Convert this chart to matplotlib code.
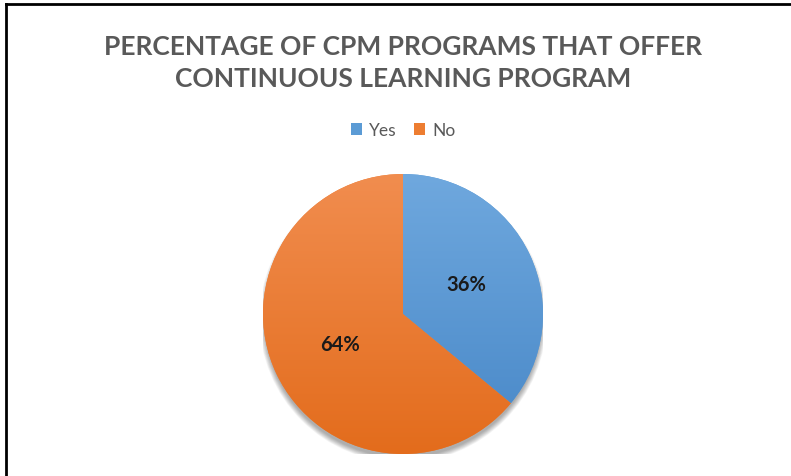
import matplotlib
matplotlib.use("Agg")
import matplotlib.pyplot as plt
import numpy as np
from matplotlib.lines import Line2D
from matplotlib.patches import Circle, Patch
from matplotlib.colors import LinearSegmentedColormap

categories = ["Yes", "No"]
values = [36, 64]
base_colors = ["#5B9BD5", "#ED7D31"]
grad_top = ["#6FA8DE", "#F18D4F"]
grad_bottom = ["#4787C7", "#E36C1C"]
title = "PERCENTAGE OF CPM PROGRAMS THAT OFFER\nCONTINUOUS LEARNING PROGRAM"

W, H = 791, 477
fig = plt.figure(figsize=(W / 100, H / 100), dpi=100)
fig.patch.set_facecolor("white")

cx, cy, r = 403, 315, 140
ax = fig.add_axes([(cx - r) / W, (H - cy - r) / H, 2 * r / W, 2 * r / H])
ax.set_xlim(-1, 1)
ax.set_ylim(-1, 1)
ax.set_aspect("equal")
ax.axis("off")

# soft shadow
for i in range(10):
    ax.add_patch(Circle((0.0, -0.035), 0.99 + 0.004 * i, facecolor="black",
                        alpha=0.035, edgecolor="none", zorder=0))

wedges, texts, autotexts = ax.pie(
    values, colors=base_colors, startangle=90, counterclock=False,
    radius=1.0, autopct="%1.0f%%", pctdistance=0.5,
    textprops=dict(fontsize=14.5, fontweight="bold", color="#1A1A1A",
                   family=["Lato", "DejaVu Sans"]),
    wedgeprops=dict(linewidth=0, zorder=1))

for w, t, b in zip(wedges, grad_top, grad_bottom):
    cmap = LinearSegmentedColormap.from_list("g", [b, t])
    grad = np.linspace(0, 1, 256).reshape(-1, 1)
    im = ax.imshow(grad, extent=(-1, 1, -1, 1), origin="lower", cmap=cmap,
                   aspect="auto", zorder=1.5)
    im.set_clip_path(w)
for at in autotexts:
    at.set_zorder(3)
ax.set_xlim(-1, 1)
ax.set_ylim(-1, 1)

fig.text(cx / W, 1 - 63 / H, title, ha="center", va="center",
         fontsize=19, fontweight="bold", color="#595959", linespacing=1.4,
         family=["Lato", "DejaVu Sans"])

handles = [Patch(facecolor=c, edgecolor="none") for c in base_colors]
fig.legend(handles, categories, loc="center", bbox_to_anchor=(cx / W, 1 - 131 / H),
           ncol=2, frameon=False, handlelength=0.65, handleheight=0.65,
           handletextpad=0.4, columnspacing=1.0,
           labelcolor="#595959", prop=dict(family=["Lato", "DejaVu Sans"], size=12.5))

fig.add_artist(Line2D([6 / W, 1], [1 - 5 / H, 1 - 5 / H], color="black", lw=2,
                      transform=fig.transFigure))
fig.add_artist(Line2D([6 / W, 6 / W], [0, 1 - 5 / H], color="black", lw=2,
                      transform=fig.transFigure))

fig.savefig("out.png", dpi=100)
